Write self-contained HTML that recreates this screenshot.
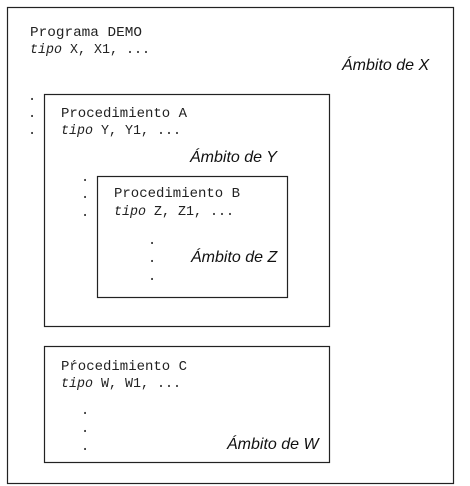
<!DOCTYPE html>
<html><head><meta charset="utf-8"><style>
html,body{margin:0;padding:0;background:#fff;}
svg{display:block;}
.m{font-family:"Liberation Mono","Courier New",monospace;font-size:13.5px;fill:#222;}
.i{font-style:italic;}
.a{font-family:"Liberation Sans",Arial,sans-serif;font-style:italic;font-size:16px;fill:#111;}
</style></head><body>
<svg width="470" height="486" viewBox="0 0 470 486">
<g fill="none" stroke="#222" stroke-width="1.2">
<rect x="7.5" y="7.5" width="446" height="476"/>
<rect x="44.5" y="94.5" width="285" height="232"/>
<rect x="97.5" y="176.5" width="190" height="121"/>
<rect x="44.5" y="346.5" width="285" height="116"/>
</g>
<text class="m" x="30" y="36" textLength="112" lengthAdjust="spacingAndGlyphs">Programa DEMO</text>
<text class="m" x="30" y="53" textLength="120" lengthAdjust="spacingAndGlyphs"><tspan class="i">tipo</tspan> X, X1, ...</text>
<text class="a" x="342" y="70">Ámbito de X</text>
<text class="m" x="28" y="100">.</text>
<text class="m" x="28" y="117">.</text>
<text class="m" x="28" y="134">.</text>
<text class="m" x="61" y="117" textLength="126" lengthAdjust="spacingAndGlyphs">Procedimiento A</text>
<text class="m" x="61" y="134" textLength="120" lengthAdjust="spacingAndGlyphs"><tspan class="i">tipo</tspan> Y, Y1, ...</text>
<text class="a" x="190" y="162">Ámbito de Y</text>
<text class="m" x="81" y="181">.</text>
<text class="m" x="81" y="198">.</text>
<text class="m" x="81" y="216">.</text>
<text class="m" x="114" y="197" textLength="126" lengthAdjust="spacingAndGlyphs">Procedimiento B</text>
<text class="m" x="114" y="215" textLength="120" lengthAdjust="spacingAndGlyphs"><tspan class="i">tipo</tspan> Z, Z1, ...</text>
<text class="m" x="148" y="244">.</text>
<text class="m" x="148" y="262">.</text>
<text class="m" x="148" y="280">.</text>
<text class="a" x="191" y="262">Ámbito de Z</text>
<text class="m" x="61" y="370" textLength="126" lengthAdjust="spacingAndGlyphs">Pŕocedimiento C</text>
<text class="m" x="61" y="387" textLength="120" lengthAdjust="spacingAndGlyphs"><tspan class="i">tipo</tspan> W, W1, ...</text>
<text class="m" x="81" y="414">.</text>
<text class="m" x="81" y="432">.</text>
<text class="m" x="81" y="450">.</text>
<text class="a" x="227" y="449">Ámbito de W</text>
</svg>
</body></html>
